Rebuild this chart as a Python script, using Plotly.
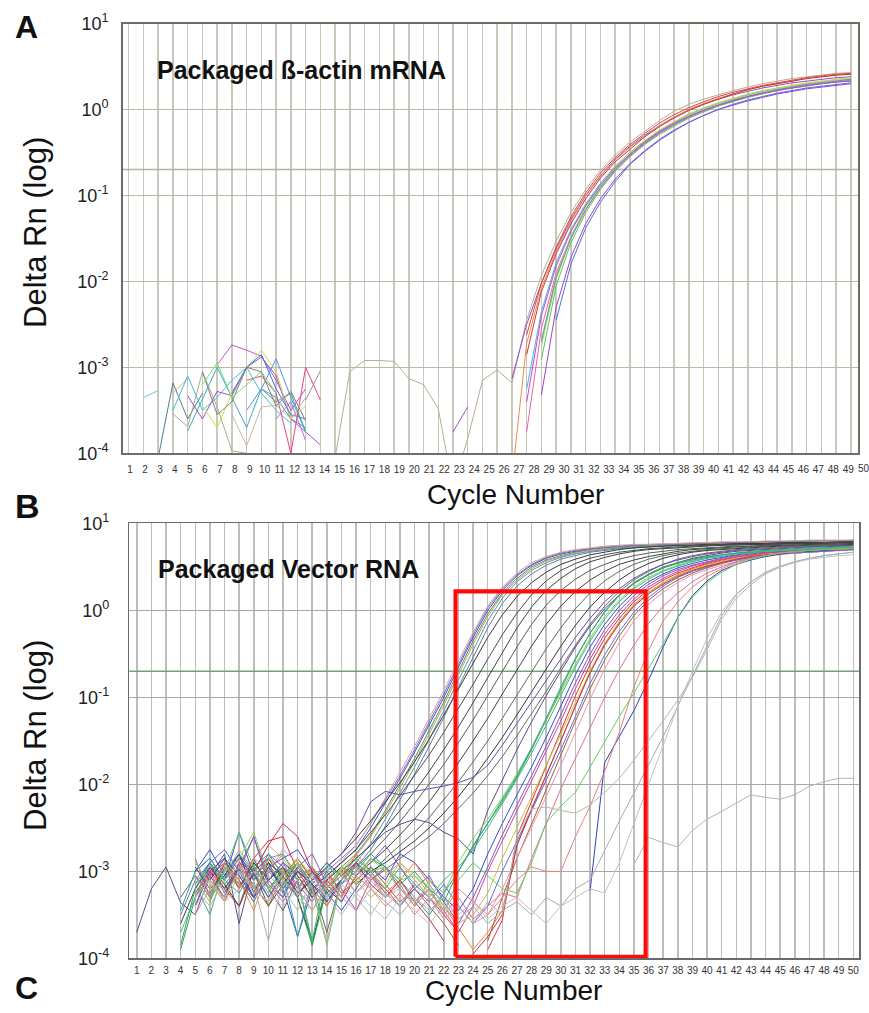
import plotly.graph_objects as go

N = None
W, H = 869, 1013

# ---------------- data ----------------
CYCLES = list(range(1, 51))
X_TICK_LABELS = [str(c) for c in CYCLES]
Y_TICK_VALUES = [1e-4, 1e-3, 1e-2, 1e-1, 1e0, 1e1]
Y_TICK_LABELS = ["10<sup>-4</sup>", "10<sup>-3</sup>", "10<sup>-2</sup>",
                 "10<sup>-1</sup>", "10<sup>0</sup>", "10<sup>1</sup>"]
THRESHOLD_A = 0.2
THRESHOLD_B = 0.2
RED_BOX_CYCLES = [22.8, 35.8]
RED_BOX_DRN = [1.04e-4, 1.66]

# Panel A: (colour, first cycle, log10 Delta Rn read per cycle)
A_NOISE = [
    ("#70c8e8", 2, [-3.35, -3.27]),
    ("#508080", 3, [-4.05, -3.18, -3.6, -3.3]),
    ("#f0a060", 4, [-3.3, -3.13]),
    ("#b0a890", 4, [-3.54, -3.69, -3.05, -3.46, -3.97, -4.0]),
    ("#40c0d8", 4, [-3.5, -3.1, -3.5, -3.35, -3.15, -3.0, -3.3, -3.5, -3.65]),
    ("#40a8c0", 5, [-3.74, -3.36, -3.0, -3.35, -3.7, -3.25, -3.35, -3.6, -3.7]),
    ("#a050d0", 5, [-3.33, -3.6, -3.28, -3.33, -3.0, -2.88, -3.1, -3.6, -3.75, -3.9]),
    ("#c050c0", 7, [-2.97, -2.74, -2.8, -2.87, -3.15, -3.5, -3.25]),
    ("#c8e050", 6, [-3.45, -3.7, -3.3, -3.0, -2.8, -3.05, -3.6, -3.45]),
    ("#4070e0", 8, [-3.3, -3.0, -2.85, -3.25, -3.55, -3.6]),
    ("#5090f0", 9, [-3.5, -3.25, -2.9, -3.35, -3.75]),
    ("#f04080", 9, [-3.15, -3.1, -3.3, -4.0, -3.0, -3.38]),
    ("#b070e0", 11, [-3.6, -3.4, -3.85]),
    ("#c8b898", 8, [-3.55, -3.91, -3.46, -3.44, -3.6, -3.35]),
    ("#909890", 13, [-3.38, -3.04]),
    ("#40a890", 10, [-3.25, -3.4, -3.3, -3.75]),
    ("#808070", 6, [-3.05, -3.55, -3.4, -3.0, -3.05, -3.45, -3.28, -3.62]),
    ("#70e070", 6, [-3.2, -2.95, -3.35, -3.2, -3.05, -3.3]),
    ("#a050c0", 23, [-3.75, -3.46]),
]

A_AMP = [
    ("#b8ae94", 15, [-4.05, -3.05, -2.92, -2.92, -2.93, -3.13, -3.2, -3.48, -4.4, -3.83,
                     -3.15, -3.03, -3.18, -2.45, -1.93, -1.53, -1.2, -0.93, -0.71, -0.53,
                     -0.38, -0.25, -0.13, -0.02, 0.06, 0.12, 0.17, 0.22, 0.26, 0.3,
                     0.33, 0.36, 0.38, 0.4, 0.42, 0.43]),
    ("#9050c8", 27, [-3.13, -2.5, -2.02, -1.62, -1.28, -1.0, -0.77, -0.58, -0.43, -0.3, -0.19, -0.09,
                     -0.01, 0.06, 0.12, 0.17, 0.21, 0.25, 0.28, 0.31, 0.33, 0.35, 0.37, 0.38]),
    ("#e04040", 28, [-2.62, -2.02, -1.6, -1.25, -0.97, -0.74, -0.56, -0.41, -0.28, -0.16, -0.06, 0.02,
                     0.09, 0.15, 0.2, 0.24, 0.28, 0.31, 0.34, 0.37, 0.39, 0.41, 0.42]),
    ("#f08a50", 27, [-4.3, -2.72, -2.08, -1.65, -1.3, -1.01, -0.78, -0.59, -0.44, -0.31, -0.19, -0.09,
                     0.0, 0.07, 0.13, 0.18, 0.23, 0.27, 0.3, 0.33, 0.36, 0.38, 0.4, 0.41]),
    ("#c83838", 28, [-2.85, -2.12, -1.68, -1.33, -1.04, -0.8, -0.61, -0.46, -0.32, -0.2, -0.1, -0.01,
                     0.06, 0.12, 0.18, 0.23, 0.27, 0.3, 0.33, 0.36, 0.38, 0.4, 0.41]),
    ("#40b8e0", 28, [-3.25, -2.35, -1.78, -1.4, -1.1, -0.86, -0.66, -0.5, -0.37, -0.25, -0.15, -0.06,
                     0.01, 0.07, 0.12, 0.17, 0.21, 0.24, 0.27, 0.3, 0.32, 0.34, 0.35]),
    ("#f060b0", 28, [-3.75, -2.55, -1.9, -1.48, -1.16, -0.91, -0.71, -0.54, -0.4, -0.28, -0.18, -0.09,
                     -0.02, 0.05, 0.1, 0.15, 0.19, 0.22, 0.25, 0.28, 0.3, 0.32, 0.33]),
    ("#60c060", 29, [-2.91, -2.05, -1.55, -1.2, -0.93, -0.72, -0.55, -0.41, -0.29, -0.19, -0.1,
                     -0.03, 0.04, 0.09, 0.14, 0.18, 0.22, 0.25, 0.27, 0.3, 0.32, 0.34]),
    ("#a8e050", 29, [-2.75, -1.98, -1.5, -1.16, -0.9, -0.69, -0.52, -0.38, -0.26, -0.16, -0.07,
                     0.0, 0.06, 0.12, 0.16, 0.2, 0.24, 0.27, 0.3, 0.32, 0.34, 0.36]),
    ("#c8d040", 29, [-2.68, -1.93, -1.47, -1.14, -0.88, -0.67, -0.5, -0.36, -0.24, -0.14, -0.05,
                     0.02, 0.08, 0.13, 0.18, 0.22, 0.25, 0.28, 0.31, 0.33, 0.35, 0.37]),
    ("#a040d0", 29, [-3.32, -2.3, -1.72, -1.33, -1.04, -0.81, -0.63, -0.48, -0.35, -0.24, -0.15,
                     -0.07, 0.0, 0.05, 0.1, 0.14, 0.18, 0.21, 0.24, 0.26, 0.28, 0.3]),
    ("#4a70e0", 30, [-2.45, -1.8, -1.38, -1.08, -0.84, -0.64, -0.49, -0.36, -0.25, -0.15, -0.07,
                     0.0, 0.06, 0.11, 0.15, 0.19, 0.22, 0.25, 0.27, 0.29, 0.31]),
    ("#5890d8", 29, [-2.7, -1.95, -1.5, -1.17, -0.91, -0.7, -0.53, -0.39, -0.27, -0.17, -0.08,
                     -0.01, 0.05, 0.11, 0.15, 0.19, 0.23, 0.26, 0.29, 0.31, 0.33, 0.35]),
    ("#d040d0", 28, [-3.4, -2.4, -1.82, -1.42, -1.12, -0.88, -0.68, -0.52, -0.38, -0.26, -0.16, -0.08,
                     -0.01, 0.05, 0.1, 0.15, 0.19, 0.22, 0.25, 0.28, 0.3, 0.32, 0.33]),
]

# Panel B: (colour, log10 Delta Rn for cycles 1..50)
B_CURVES = [
    # early group
    ("#3a4fc8", [N, N, N, N, -3.0, -2.85, -3.1, -2.55, -3.05, -2.9,
                 -3.2, -3.75, -3.2, -3.05, -2.9, -2.75, -2.5, -2.22, -1.93, -1.63,
                 -1.32, -1.0, -0.65, -0.31, 0.0, 0.23, 0.4, 0.52, 0.6, 0.65,
                 0.68, 0.71, 0.72, 0.74, 0.75, 0.75, 0.76, 0.76, 0.77, 0.77,
                 0.78, 0.78, 0.78, 0.79, 0.79, 0.79, 0.8, 0.8, 0.8, 0.8]),
    ("#3c9a5a", [N, N, N, -3.9, -3.3, -2.95, -3.15, -3.4, -2.9, -3.1,
                 -2.95, -3.3, -3.85, -3.1, -2.95, -2.8, -2.58, -2.3, -2.0, -1.7,
                 -1.38, -1.05, -0.7, -0.35, -0.04, 0.2, 0.37, 0.5, 0.58, 0.63,
                 0.67, 0.7, 0.72, 0.73, 0.74, 0.75, 0.75, 0.76, 0.76, 0.77,
                 0.77, 0.77, 0.78, 0.78, 0.78, 0.79, 0.79, 0.79, 0.79, 0.8]),
    ("#8a6cc8", [N, N, N, N, -2.85, -3.3, -3.0, -2.8, -3.2, -2.95,
                 -3.1, -2.9, -3.25, -3.0, -2.85, -2.7, -2.45, -2.18, -1.9, -1.6,
                 -1.28, -0.96, -0.62, -0.28, 0.03, 0.25, 0.41, 0.53, 0.61, 0.66,
                 0.69, 0.71, 0.73, 0.74, 0.75, 0.76, 0.76, 0.77, 0.77, 0.78,
                 0.78, 0.78, 0.79, 0.79, 0.79, 0.8, 0.8, 0.8, 0.8, 0.81]),
    ("#e8905a", [N, N, N, N, N, -3.2, -2.9, -3.1, -3.45, -3.0,
                 -2.8, -3.05, -3.3, -3.15, -2.98, -2.82, -2.6, -2.33, -2.04, -1.74,
                 -1.42, -1.09, -0.74, -0.39, -0.07, 0.18, 0.35, 0.48, 0.57, 0.62,
                 0.66, 0.69, 0.71, 0.72, 0.73, 0.74, 0.75, 0.75, 0.76, 0.76,
                 0.77, 0.77, 0.77, 0.78, 0.78, 0.78, 0.78, 0.79, 0.79, 0.79]),
    ("#4aa0a8", [N, N, N, N, -3.15, -3.5, -2.95, -3.2, -3.05, -3.3,
                 -3.0, -3.2, -2.95, -3.2, -3.05, -2.9, -2.68, -2.4, -2.1, -1.8,
                 -1.48, -1.15, -0.8, -0.45, -0.12, 0.14, 0.33, 0.46, 0.55, 0.61,
                 0.65, 0.68, 0.7, 0.72, 0.73, 0.74, 0.74, 0.75, 0.75, 0.76,
                 0.76, 0.77, 0.77, 0.77, 0.78, 0.78, 0.78, 0.78, 0.79, 0.79]),
    ("#e0a0a0", [N, N, N, N, N, N, -3.05, -2.75, -3.0, -2.7,
                 -2.85, -3.1, -3.3, -3.1, -2.88, -2.7, -2.45, -2.15, -1.86, -1.56,
                 -1.24, -0.92, -0.58, -0.25, 0.05, 0.27, 0.43, 0.55, 0.62, 0.67,
                 0.7, 0.72, 0.74, 0.75, 0.76, 0.76, 0.77, 0.77, 0.78, 0.78,
                 0.79, 0.79, 0.79, 0.8, 0.8, 0.8, 0.81, 0.81, 0.81, 0.81]),
    ("#6878a0", [N, N, N, -3.5, -3.1, -2.9, -3.25, -2.95, -2.6, -3.15,
                 -3.3, -3.0, -3.15, -3.3, -3.1, -2.95, -2.75, -2.48, -2.18, -1.88,
                 -1.56, -1.23, -0.88, -0.53, -0.2, 0.08, 0.28, 0.42, 0.52, 0.59,
                 0.63, 0.67, 0.69, 0.71, 0.72, 0.73, 0.74, 0.74, 0.75, 0.75,
                 0.76, 0.76, 0.77, 0.77, 0.77, 0.78, 0.78, 0.78, 0.78, 0.79]),
    # dark grey group
    ("#3a3a3a", [N, N, N, N, -3.4, -3.0, -2.85, -3.2, -2.9, -3.1,
                 -2.95, -3.25, -3.1, -2.95, -2.8, -2.62, -2.42, -2.2, -1.98, -1.74,
                 -1.48, -1.2, -0.9, -0.6, -0.31, -0.05, 0.16, 0.32, 0.44, 0.53,
                 0.59, 0.64, 0.67, 0.7, 0.72, 0.73, 0.74, 0.75, 0.75, 0.76,
                 0.76, 0.77, 0.77, 0.77, 0.78, 0.78, 0.78, 0.78, 0.79, 0.79]),
    ("#4c4c4c", [N, N, N, N, N, -3.1, -3.3, -2.9, -3.0, -3.4,
                 -3.15, -2.9, -3.2, -3.05, -2.9, -2.75, -2.55, -2.35, -2.13, -1.9,
                 -1.66, -1.4, -1.13, -0.85, -0.56, -0.28, -0.03, 0.18, 0.34, 0.46,
                 0.54, 0.6, 0.64, 0.67, 0.69, 0.71, 0.72, 0.73, 0.74, 0.75,
                 0.75, 0.76, 0.76, 0.76, 0.77, 0.77, 0.77, 0.78, 0.78, 0.78]),
    ("#2e4a3c", [N, N, N, N, -2.95, -3.2, -3.05, -2.8, -3.25, -2.9,
                 -3.05, -3.3, -3.8, -3.2, -3.0, -2.85, -2.7, -2.5, -2.3, -2.08,
                 -1.85, -1.6, -1.34, -1.06, -0.77, -0.48, -0.2, 0.04, 0.23, 0.37,
                 0.48, 0.56, 0.61, 0.65, 0.68, 0.7, 0.71, 0.72, 0.73, 0.74,
                 0.75, 0.75, 0.76, 0.76, 0.76, 0.77, 0.77, 0.77, 0.77, 0.78]),
    ("#5a5a5a", [N, N, N, N, N, -3.35, -2.9, -3.1, -2.85, -3.2,
                 -3.45, -3.1, -2.95, -3.25, -3.1, -2.95, -2.8, -2.62, -2.43, -2.22,
                 -2.0, -1.77, -1.52, -1.26, -0.98, -0.7, -0.42, -0.16, 0.06, 0.23,
                 0.36, 0.46, 0.53, 0.59, 0.63, 0.66, 0.68, 0.7, 0.71, 0.72,
                 0.73, 0.74, 0.74, 0.75, 0.75, 0.76, 0.76, 0.76, 0.77, 0.77]),
    ("#404040", [N, N, N, -3.6, -3.2, -2.95, -3.15, -3.4, -3.0, -2.85,
                 -3.1, -3.3, -3.0, -3.2, -3.35, -3.05, -2.9, -2.75, -2.58, -2.4,
                 -2.2, -1.98, -1.75, -1.5, -1.24, -0.96, -0.68, -0.41, -0.16, 0.05,
                 0.22, 0.35, 0.45, 0.53, 0.58, 0.62, 0.65, 0.68, 0.7, 0.71,
                 0.72, 0.73, 0.74, 0.74, 0.75, 0.75, 0.76, 0.76, 0.76, 0.77]),
    ("#55705a", [N, N, N, N, -3.05, -3.3, -2.9, -3.15, -3.05, -2.9,
                 -3.25, -3.0, -3.15, -3.7, -3.1, -2.9, -3.05, -2.85, -2.7, -2.55,
                 -2.38, -2.18, -1.97, -1.74, -1.5, -1.24, -0.97, -0.7, -0.44, -0.2,
                 0.02, 0.2, 0.34, 0.45, 0.53, 0.59, 0.63, 0.66, 0.68, 0.7,
                 0.71, 0.72, 0.73, 0.74, 0.74, 0.75, 0.75, 0.76, 0.76, 0.76]),
    ("#363636", [N, N, N, N, N, -3.0, -3.2, -2.95, -3.3, -3.1,
                 -2.9, -3.05, -3.3, -3.1, -2.95, -3.15, -3.0, -2.9, -2.78, -2.65,
                 -2.5, -2.33, -2.14, -1.93, -1.7, -1.46, -1.2, -0.94, -0.67, -0.41,
                 -0.17, 0.04, 0.21, 0.35, 0.46, 0.54, 0.6, 0.64, 0.67, 0.69,
                 0.7, 0.71, 0.72, 0.73, 0.74, 0.74, 0.75, 0.75, 0.75, 0.76]),
    ("#686868", [N, N, N, -3.3, -3.05, -3.25, -2.95, -3.1, -3.35, -3.0,
                 -3.15, -2.95, -3.2, -3.4, -3.1, -2.95, -3.1, -2.98, -2.85, -2.72,
                 -2.6, -2.45, -2.28, -2.1, -1.9, -1.68, -1.44, -1.19, -0.93, -0.66,
                 -0.4, -0.16, 0.05, 0.22, 0.35, 0.45, 0.53, 0.59, 0.63, 0.66,
                 0.68, 0.7, 0.71, 0.72, 0.73, 0.74, 0.74, 0.75, 0.75, 0.75]),
    # purple curves that run flat near 1e-2 before rising
    ("#6a4aa8", [N, N, N, N, -3.2, -2.95, -3.1, -2.85, -3.0, -3.3,
                 -3.05, -2.9, -3.15, -2.95, -2.8, -2.55, -2.2, -2.08, -2.12, -2.08,
                 -2.05, -2.02, -1.98, -1.92, -1.78, -1.55, -1.3, -1.05, -0.8, -0.55,
                 -0.31, -0.09, 0.1, 0.25, 0.37, 0.46, 0.53, 0.58, 0.62, 0.65,
                 0.67, 0.69, 0.7, 0.71, 0.72, 0.73, 0.73, 0.74, 0.74, 0.75]),
    ("#5a4a8a", [-3.7, -3.2, -2.95, -3.36, -3.5, -3.05, -2.8, -3.6, -2.95, -3.2,
                 -3.0, -3.25, -3.1, -2.9, -3.05, -2.85, -2.7, -2.55, -2.46, -2.4,
                 -2.44, -2.55, -2.63, -2.8, -2.3, -1.95, -1.6, -1.28, -0.98, -0.7,
                 -0.42, -0.18, 0.02, 0.18, 0.31, 0.41, 0.49, 0.55, 0.6, 0.63,
                 0.66, 0.68, 0.69, 0.7, 0.71, 0.72, 0.73, 0.73, 0.74, 0.74]),
    # main cluster
    ("#e03030", [N, N, N, N, -3.3, -3.05, -2.9, -3.2, -2.85, -2.65,
                 -2.6, -3.0, -3.25, -3.1, -3.3, -2.9, -3.05, -3.2, -3.4, -3.15,
                 -3.3, -3.5, -3.7, N, -3.9, -3.56, -2.6, -2.2, -1.8, -1.4,
                 -0.98, -0.62, -0.32, -0.09, 0.1, 0.24, 0.35, 0.43, 0.49, 0.54,
                 0.58, 0.61, 0.64, 0.66, 0.67, 0.68, 0.69, 0.7, 0.71, 0.72]),
    ("#30a848", [N, N, N, -3.85, -3.2, -2.9, -3.1, -2.8, -3.0, -3.25,
                 -2.95, -3.1, -3.85, -3.2, -2.95, -3.05, -2.85, -2.95, -3.15, -3.0,
                 -3.2, -3.35, -3.0, -2.7, -2.45, -2.2, -1.92, -1.6, -1.26, -0.9,
                 -0.56, -0.26, -0.01, 0.18, 0.32, 0.42, 0.5, 0.55, 0.59, 0.62,
                 0.64, 0.66, 0.68, 0.69, 0.7, 0.71, 0.72, 0.72, 0.73, 0.73]),
    ("#3050d0", [N, N, N, N, -3.0, -2.75, -3.05, -2.8, -3.1, -2.95,
                 -2.85, -2.75, -3.0, -3.25, -3.45, -3.2, -2.95, -3.1, -2.8, -2.9,
                 -3.1, -3.3, -3.45, -3.2, -2.8, -2.45, -2.12, -1.8, -1.46, -1.1,
                 -0.74, -0.42, -0.16, 0.05, 0.21, 0.33, 0.42, 0.49, 0.54, 0.58,
                 0.61, 0.64, 0.66, 0.67, 0.68, 0.69, 0.7, 0.71, 0.71, 0.72]),
    ("#9050c0", [N, N, N, N, -3.4, -2.95, -3.2, -3.0, -2.6, -3.1,
                 -3.3, -2.95, -2.8, -3.15, -3.35, -3.05, -2.9, -2.7, -2.95, -3.2,
                 -3.05, -3.35, -3.6, -3.3, -2.95, -2.58, -2.24, -1.9, -1.56, -1.2,
                 -0.83, -0.5, -0.22, 0.0, 0.17, 0.3, 0.4, 0.47, 0.52, 0.56,
                 0.6, 0.63, 0.65, 0.67, 0.68, 0.69, 0.7, 0.71, 0.71, 0.72]),
    ("#f07a30", [N, N, N, N, N, -3.2, -2.9, -3.15, -3.3, -2.85,
                 -3.0, -3.2, -2.95, -3.4, -3.1, -2.8, -3.0, -3.25, -3.1, -2.9,
                 -3.15, -3.4, -3.65, -3.9, -3.7, -3.45, -2.7, -2.3, -1.9, -1.5,
                 -1.08, -0.7, -0.38, -0.13, 0.07, 0.21, 0.32, 0.41, 0.48, 0.53,
                 0.57, 0.6, 0.63, 0.65, 0.66, 0.68, 0.69, 0.7, 0.7, 0.71]),
    ("#88d048", [N, N, N, N, -3.1, -3.35, -3.0, -2.85, -2.55, -3.05,
                 -3.2, -2.9, -3.05, -3.3, -2.95, -3.15, -2.85, -3.0, -3.2, -3.4,
                 -3.1, -3.25, -2.9, -2.62, -2.4, -2.15, -1.88, -1.58, -1.26, -0.94,
                 -0.62, -0.32, -0.07, 0.12, 0.27, 0.38, 0.46, 0.52, 0.57, 0.6,
                 0.63, 0.65, 0.67, 0.68, 0.69, 0.7, 0.71, 0.72, 0.72, 0.73]),
    ("#d040a0", [N, N, N, N, -3.25, -3.0, -3.35, -2.9, -3.1, -2.8,
                 -2.95, -3.15, -3.35, -3.05, -3.2, -3.45, -3.1, -2.95, -3.2, -3.35,
                 -3.2, -3.45, -3.7, -3.4, -3.0, -2.65, -2.3, -1.96, -1.62, -1.27,
                 -0.9, -0.56, -0.27, -0.05, 0.13, 0.27, 0.37, 0.45, 0.51, 0.55,
                 0.59, 0.62, 0.64, 0.66, 0.67, 0.68, 0.69, 0.7, 0.71, 0.71]),
    ("#30a0a0", [N, N, N, -3.45, -3.0, -2.85, -3.1, -3.25, -2.95, -2.8,
                 -3.05, -3.75, -3.1, -2.9, -3.15, -3.0, -2.8, -2.95, -3.1, -3.3,
                 -3.5, -3.25, -3.0, -2.72, -2.45, -2.18, -1.9, -1.58, -1.24, -0.88,
                 -0.55, -0.26, -0.02, 0.17, 0.31, 0.41, 0.49, 0.54, 0.58, 0.61,
                 0.64, 0.66, 0.67, 0.68, 0.69, 0.7, 0.71, 0.72, 0.72, 0.73]),
    ("#a06030", [N, N, N, N, N, -3.05, -3.3, -2.95, -3.15, -3.4,
                 -3.05, -2.85, -3.1, -3.0, -3.25, -3.1, -2.95, -3.15, -3.35, -3.2,
                 -3.4, -3.6, -3.85, N, -3.8, -3.3, -2.85, -2.45, -2.05, -1.66,
                 -1.27, -0.9, -0.57, -0.29, -0.06, 0.12, 0.25, 0.35, 0.43, 0.49,
                 0.54, 0.58, 0.61, 0.63, 0.65, 0.66, 0.67, 0.68, 0.69, 0.7]),
    ("#f090b8", [N, N, N, N, -3.5, -3.2, -2.95, -3.1, -2.85, -3.0,
                 -2.75, -2.9, -3.2, -3.8, -3.1, -2.95, -3.2, -3.05, -2.9, -3.1,
                 -3.3, -3.55, -3.4, -3.6, -3.5, -3.2, -2.85, -2.5, -2.14, -1.78,
                 -1.4, -1.02, -0.67, -0.37, -0.12, 0.07, 0.21, 0.32, 0.41, 0.47,
                 0.52, 0.56, 0.6, 0.62, 0.64, 0.66, 0.67, 0.68, 0.69, 0.7]),
    ("#c8c040", [N, N, N, N, -2.9, -3.15, -3.35, -3.05, -3.2, -2.95,
                 -3.1, -2.85, -3.05, -3.2, -2.95, -3.1, -3.3, -3.15, -2.9, -3.05,
                 -3.25, -3.4, -3.6, -3.5, -3.25, -2.85, -2.5, -2.14, -1.78, -1.42,
                 -1.05, -0.7, -0.4, -0.15, 0.05, 0.2, 0.31, 0.4, 0.47, 0.52,
                 0.56, 0.6, 0.62, 0.64, 0.66, 0.67, 0.68, 0.69, 0.7, 0.71]),
    ("#40b880", [N, N, N, -3.7, -3.3, -2.9, -3.15, -2.95, -3.1, -2.85,
                 -2.8, -3.1, -3.8, -2.95, -3.05, -2.85, -3.0, -3.2, -2.95, -3.15,
                 -3.3, -3.1, -2.95, -2.75, -2.5, -2.22, -1.94, -1.64, -1.32, -0.98,
                 -0.65, -0.35, -0.1, 0.1, 0.25, 0.36, 0.45, 0.51, 0.56, 0.6,
                 0.62, 0.65, 0.66, 0.68, 0.69, 0.7, 0.71, 0.71, 0.72, 0.72]),
    ("#6070e0", [N, N, N, N, -3.15, -2.9, -2.75, -3.0, -3.3, -3.1,
                 -2.9, -3.2, -3.0, -3.35, -3.15, -2.9, -3.05, -3.25, -3.4, -3.2,
                 -3.35, -3.15, -3.4, -3.6, -3.4, -3.0, -2.65, -2.3, -1.95, -1.6,
                 -1.22, -0.84, -0.51, -0.24, -0.02, 0.15, 0.28, 0.38, 0.45, 0.5,
                 0.55, 0.58, 0.61, 0.63, 0.65, 0.66, 0.67, 0.68, 0.69, 0.7]),
    ("#c03050", [N, N, N, N, N, -2.95, -3.2, -3.4, -3.0, -2.7,
                 -2.45, -2.6, -3.0, -3.2, -3.05, -2.9, -3.15, -3.3, -3.1, -3.35,
                 -3.55, -3.8, N, -3.95, -3.75, -3.5, -2.7, -2.28, -1.9, -1.5,
                 -1.1, -0.72, -0.4, -0.15, 0.05, 0.19, 0.3, 0.39, 0.46, 0.51,
                 0.55, 0.59, 0.62, 0.64, 0.65, 0.67, 0.68, 0.69, 0.7, 0.7]),
    # later stragglers
    ("#e07090", [N, N, N, N, -3.3, -3.05, -2.9, -3.2, -3.0, -3.15,
                 -3.35, -3.1, -2.95, -3.2, -3.0, -3.25, -3.05, -3.3, -3.15, -3.4,
                 -3.2, -3.5, -3.3, -3.55, -3.4, -3.25, -3.3, -2.85, -2.45, -2.05,
                 -1.7, -1.35, -1.0, -0.68, -0.4, -0.15, 0.05, 0.2, 0.33, 0.43,
                 0.5, 0.56, 0.6, 0.63, 0.65, 0.67, 0.68, 0.69, 0.7, 0.7]),
    ("#3040b8", [N, N, N, N, N, -3.1, -2.85, -3.05, -3.3, -2.95,
                 -3.2, -3.0, -3.15, -3.35, -3.1, N, N, N, N, N,
                 N, N, N, N, N, N, N, N, N, N,
                 N, -3.22, -1.75, -1.45, -1.15, -0.8, -0.42, -0.08, 0.17, 0.34,
                 0.46, 0.53, 0.58, 0.62, 0.65, 0.67, 0.68, 0.69, 0.7, 0.7]),
    ("#e88080", [N, N, N, N, -3.05, -3.3, -3.1, -2.9, -3.2, -3.35,
                 -3.0, -3.2, -3.45, -3.15, -3.3, -3.05, -3.2, -3.4, -3.25, -3.5,
                 -3.3, -3.45, -3.2, -3.35, -3.5, -3.3, -3.1, -2.95, -3.0, -3.0,
                 -2.6, -2.25, -1.85, -1.4, -0.88, -0.46, -0.12, 0.1, 0.27, 0.39,
                 0.48, 0.55, 0.6, 0.63, 0.66, 0.67, 0.69, 0.7, 0.7, 0.71]),
    ("#60d060", [N, N, N, N, N, -3.3, -3.0, -2.55, -2.95, -3.2,
                 -3.05, -2.9, -3.2, -3.85, -3.1, -2.95, -3.0, -2.95, -3.1, -3.05,
                 -3.2, -3.45, -3.1, -2.9, -3.05, -3.2, -3.25, -2.9, -2.44, -2.25,
                 -2.09, -1.8, -1.5, -1.22, -0.95, -0.67, -0.38, -0.08, 0.15, 0.32,
                 0.44, 0.53, 0.59, 0.63, 0.66, 0.68, 0.69, 0.7, 0.71, 0.71]),
    # late light-grey group
    ("#b0b8b0", [N, N, N, N, -3.2, -3.4, -3.1, -2.95, -3.25, -3.05,
                 -3.2, -3.45, -3.1, -3.3, -3.15, -3.3, -3.5, -3.25, -3.4, -3.1,
                 -3.3, -3.55, -3.4, -3.6, -3.35, -3.5, -2.6, -2.28, -2.26, -2.3,
                 -2.33, -2.24, -2.09, -1.93, -1.72, -1.5, -1.27, -1.03, -0.77, -0.45,
                 -0.1, 0.14, 0.3, 0.42, 0.5, 0.56, 0.6, 0.63, 0.65, 0.67]),
    ("#a8a8b4", [N, N, N, N, N, -3.1, -3.3, -3.0, -3.15, -3.8,
                 -3.1, -3.25, -3.35, -3.05, -3.3, -3.45, -3.2, -3.35, -3.5, -3.3,
                 -3.45, -3.3, -3.55, -3.4, -3.6, -3.45, -3.35, -3.5, -3.3, -3.4,
                 -3.2, -3.1, -2.75, -2.42, -2.1, -1.78, -1.45, -1.1, -0.75, -0.4,
                 -0.06, 0.18, 0.33, 0.44, 0.51, 0.56, 0.6, 0.63, 0.65, 0.67]),
    ("#c4bccc", [N, N, N, N, -3.3, -3.1, -3.35, -3.2, -3.0, -3.25,
                 -3.4, -3.2, -3.05, -3.3, -3.5, -3.25, -3.4, -3.55, -3.3, -3.45,
                 -3.6, -3.4, -3.5, -3.35, -3.55, -3.4, -3.3, -3.45, -3.6, -3.4,
                 -3.3, -3.2, -3.25, -2.9, -2.45, -2.0, -1.55, -1.1, -0.7, -0.32,
                 -0.02, 0.19, 0.33, 0.43, 0.5, 0.55, 0.59, 0.61, 0.63, 0.64]),
    # non-amplifying well
    ("#a8bca8", [N, N, N, N, -3.4, -3.15, -3.3, -3.0, -3.2, -3.35,
                 -3.1, -3.3, -3.45, -3.2, -3.05, -3.25, -3.1, -3.3, -3.2, -3.35,
                 -3.15, -3.4, -3.6, N, N, N, N, N, N, N,
                 N, N, N, N, -2.92, -2.61, -2.67, -2.72, -2.53, -2.4,
                 -2.31, -2.21, -2.12, -2.15, -2.17, -2.12, -2.02, -1.97, -1.93, -1.93]),
]

# ---------------- figure ----------------
FONT = "Liberation Sans, Arial, Helvetica, sans-serif"
fig = go.Figure()


def add_curve(first_cycle, logs, color, xa, ya, width=1.0):
    xs = [first_cycle + i for i in range(len(logs))]
    ys = [None if v is None else 10 ** v for v in logs]
    fig.add_trace(go.Scatter(x=xs, y=ys, mode="lines", xaxis=xa, yaxis=ya,
                             line=dict(color=color, width=width),
                             connectgaps=False, hoverinfo="skip", showlegend=False))


# threshold lines
fig.add_trace(go.Scatter(x=[CYCLES[0] - 1, CYCLES[-1] + 1], y=[THRESHOLD_A, THRESHOLD_A],
                         mode="lines", line=dict(color="#b4b09c", width=1.5),
                         xaxis="x", yaxis="y", hoverinfo="skip", showlegend=False))
fig.add_trace(go.Scatter(x=[CYCLES[0] - 1, CYCLES[-1] + 1], y=[THRESHOLD_B, THRESHOLD_B],
                         mode="lines", line=dict(color="#7e9c7c", width=1.5),
                         xaxis="x2", yaxis="y2", hoverinfo="skip", showlegend=False))

for color, start, vals in A_NOISE:
    add_curve(start, vals, color, "x", "y")
for color, start, vals in A_AMP:
    add_curve(start, vals, color, "x", "y")
for color, vals in B_CURVES:
    add_curve(CYCLES[0], vals, color, "x2", "y2")

# red box
bx0, bx1 = RED_BOX_CYCLES
by0, by1 = RED_BOX_DRN
fig.add_trace(go.Scatter(x=[bx0, bx1, bx1, bx0, bx0], y=[by0, by0, by1, by1, by0],
                         mode="lines", line=dict(color="#ff0a0a", width=4.2),
                         xaxis="x2", yaxis="y2", hoverinfo="skip", showlegend=False))

# dummy trace for label-only axis of panel A
fig.add_trace(go.Scatter(x=[], y=[], xaxis="x3", yaxis="y", showlegend=False))

# The photographed page shows the figure slightly squeezed vertically
# (about y' = 11.5 + 0.9764 * y); positions below are given in the target
# picture's pixels and converted back here.
Y_OFF, Y_SCALE = 11.5, 0.9764


def px(x):
    return x / W


def py(y):
    return 1 - ((y - Y_OFF) / Y_SCALE) / H


ylog = dict(type="log", range=[-4, 1], tickvals=Y_TICK_VALUES, ticktext=Y_TICK_LABELS,
            tickfont=dict(family=FONT, size=18, color="#222"), ticks="",
            showline=True, mirror=True, linewidth=1.5, zeroline=False, gridwidth=1.5)

fig.update_layout(
    width=W, height=H, margin=dict(l=0, r=0, t=0, b=0),
    paper_bgcolor="white", plot_bgcolor="white", showlegend=False, hovermode=False,
    xaxis=dict(domain=[px(122.7), px(858.3)], range=[0.59, 50.5], anchor="y",
               tickvals=CYCLES, showticklabels=False, ticks="",
               showgrid=True, gridcolor="#cac7bc", gridwidth=1.5,
               showline=True, mirror=True, linecolor="#6e6e66", linewidth=1.5, zeroline=False),
    xaxis3=dict(overlaying="x", anchor="y", range=[0.512, 49.67], side="bottom",
                tickvals=CYCLES[:-1], ticktext=X_TICK_LABELS[:-1], ticks="",
                tickfont=dict(family=FONT, size=10, color="#333"), ticklabelstandoff=9,
                showgrid=False, showline=False, zeroline=False),
    yaxis=dict(domain=[py(452), py(23)], anchor="x", gridcolor="#bcb8a6",
               linecolor="#6e6e66", ticklabelstandoff=9, **ylog),
    xaxis2=dict(domain=[px(129.3), px(859.3)], range=[0.49, 50.41], anchor="y2",
                tickvals=CYCLES, ticktext=X_TICK_LABELS, ticks="",
                tickfont=dict(family=FONT, size=10, color="#333"), ticklabelstandoff=2,
                showgrid=True, gridcolor="#bdbdbd", gridwidth=1.5,
                showline=True, mirror=True, linecolor="#6a6a6a", linewidth=1.5, zeroline=False),
    yaxis2=dict(domain=[py(956), py(522)], anchor="x2", gridcolor="#a8a8a8",
                linecolor="#6a6a6a", ticklabelstandoff=15, **ylog),
)

ann = []


def text(t, x, y, size, bold=False, angle=0, xanchor="center"):
    ann.append(dict(text=("<b>%s</b>" % t) if bold else t, x=px(x), y=py(y),
                    xref="paper", yref="paper", showarrow=False, textangle=angle,
                    xanchor=xanchor, yanchor="middle",
                    font=dict(family=FONT, size=size, color="#111")))


text("A", 26, 26, 32, bold=True)
text("B", 27, 505, 34, bold=True)
text("C", 26, 986, 32, bold=True)
text("Packaged ß-actin mRNA", 155, 69, 25, bold=True, xanchor="left")
text("Packaged Vector RNA", 156, 567, 25, bold=True, xanchor="left")
text("Delta Rn (log)", 36, 232, 31, angle=-90)
text("Delta Rn (log)", 36, 734, 31, angle=-90)
text("Cycle Number", 515, 493, 28)
text("Cycle Number", 513, 988, 28)
ann.append(dict(text=X_TICK_LABELS[-1], x=px(864), y=py(467), xref="paper", yref="paper",
                showarrow=False, xanchor="center", yanchor="middle",
                font=dict(family=FONT, size=10, color="#333")))
fig.update_layout(annotations=ann)

PAGE_JS = (
    "document.documentElement.style.margin='0';"
    "document.body.style.margin='0';"
    "document.body.style.overflow='hidden';"
    "document.documentElement.style.overflow='hidden';"
    "var gd=document.getElementById('{plot_id}');"
    "gd.style.position='fixed';gd.style.top='0px';gd.style.left='0px';"
)

fig.write_html("out.html", config={"displayModeBar": False, "staticPlot": True},
               post_script=PAGE_JS)
